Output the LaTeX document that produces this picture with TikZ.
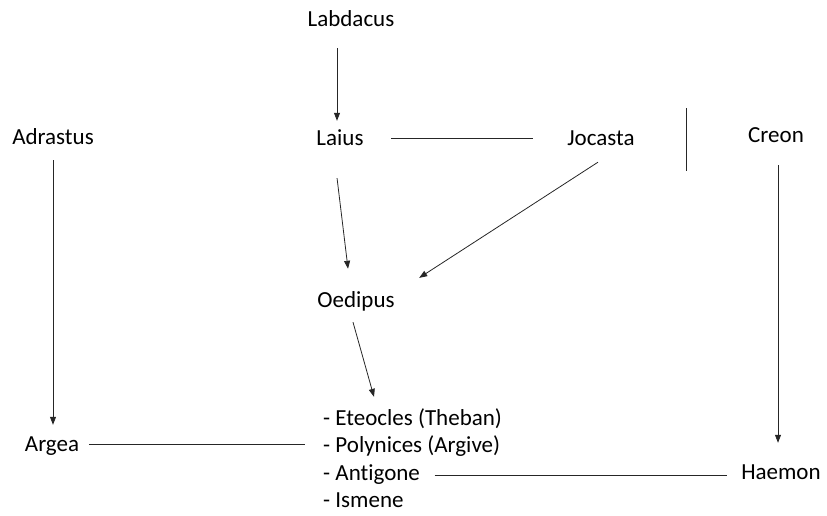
\documentclass[tikz,border=0pt]{standalone}
\usepackage{fontspec}
\setmainfont{Carlito}[Ligatures=CommonOff]
\usepackage{tikz}
\usetikzlibrary{arrows.meta,positioning}

\begin{document}
\begin{tikzpicture}[x=1pt,y=-1pt,
		perso/.style={inner sep=0pt, text height=14.8pt, text depth=0pt,
			font=\fontsize{23}{26}\selectfont},
		lien/.style={line width=0.8pt, black!85},
		fleche/.style={lien, -{Triangle[length=8pt,width=6pt]}}]
		\useasboundingbox (0,0) rectangle (827,515);
		
		% Personnages
		\node[perso] (labdacus) at (351,19)  {Labdacus};
		\node[perso] (laius)    at (340,138) {Laius};
		\node[perso] (jocasta)  at (601,138) {Jocasta};
		\node[perso] (creon)    at (776,135) {Creon};
		\node[perso] (adrastus) at (53,137)  {Adrastus};
		\node[perso] (oedipus)  at (356,300) {Oedipus};
		\node[perso] (argea)    at (52,444)  {Argea};
		\node[perso] (haemon)   at (781,472) {Haemon};
		
		% Enfants d'Oedipus
		\foreach \nom/\txt/\y in {eteocles/Eteocles (Theban)/418,
			polynices/Polynices (Argive)/445,
			antigone/Antigone/473,
			ismene/Ismene/500}{
			\node[perso, anchor=west] (\nom) at (323,\y) {- \txt};
		}
		
		% Trait vertical isole
		\coordinate (barH) at (686,108);
		\coordinate (barB) at (686,171);
		\draw[lien] (barH) -- (barB);
		
		% Filiations
		\draw[fleche, shorten <=21.6pt, shorten >=9.6pt]
		([xshift=-3pt]labdacus.south -| laius.north) -- ([xshift=-3pt]laius.north);
		\draw[fleche, shorten <=32.8pt, shorten >=23.8pt]
		([xshift=-6.9pt]laius.south) -- ([xshift=-5.1pt]oedipus.north);
		\draw[fleche, shorten <=30.5pt, shorten >=26.8pt]
		([xshift=22.6pt]jocasta.south) -- ([xshift=1.9pt]oedipus.north east);
		\draw[fleche, shorten <=15.2pt, shorten >=14.1pt]
		([xshift=-7.1pt]oedipus.south) -- ([xshift=54.8pt]eteocles.north west);
		\draw[fleche, shorten <=15.6pt, shorten >=11.6pt]
		(adrastus.south) -- (adrastus.south |- argea.north);
		\draw[fleche, shorten <=22.6pt, shorten >=21.6pt]
		([xshift=2pt]creon.south) -- ([xshift=2pt]creon.south |- haemon.north);
		
		% Unions
		\draw[lien, shorten <=27.5pt, shorten >=34pt]
		(laius.east) -- (laius.east -| jocasta.west);
		\draw[lien, shorten <=9.7pt, shorten >=18pt]
		(argea.east) -- (argea.east -| polynices.west);
		\draw[lien, shorten <=14.5pt, shorten >=14.3pt]
		([yshift=-2pt]antigone.east) -- ([yshift=-2pt]antigone.east -| haemon.west);
	\end{tikzpicture}
\end{document}
